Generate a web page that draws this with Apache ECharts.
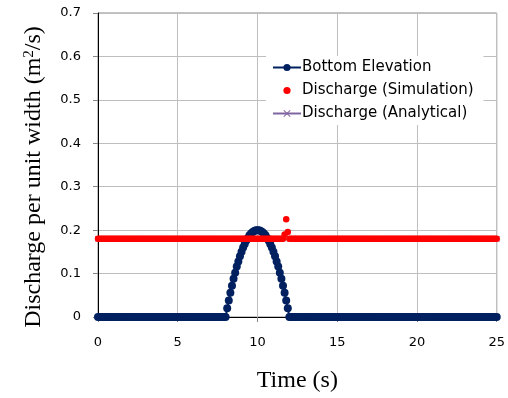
<!DOCTYPE html>
<html>
<head>
<meta charset="utf-8">
<script src="https://cdn.jsdelivr.net/npm/echarts@6/dist/echarts.min.js"></script>
<style>
  html, body { margin: 0; padding: 0; background: #fff; }
  #chart { width: 508px; height: 398px; }
</style>
</head>
<body>
<div id="chart"></div>
<script>
// sampling grids (s)
const elevStep = 0.1;
const simStep = 0.1;
const anaStep = 0.5;

// bottom elevation, one value every 0.1 s from 0 to 25
const elevValue = [
  0,0,0,0,0,0,0,0,0,0, 0,0,0,0,0,0,0,0,0,0,
  0,0,0,0,0,0,0,0,0,0, 0,0,0,0,0,0,0,0,0,0,
  0,0,0,0,0,0,0,0,0,0, 0,0,0,0,0,0,0,0,0,0,
  0,0,0,0,0,0,0,0,0,0, 0,0,0,0,0,0,0,0,0,0,
  // bump 8.0 .. 12.0
  0, 0.02, 0.038, 0.056, 0.072, 0.088, 0.102, 0.116, 0.128, 0.14,
  0.15, 0.16, 0.168, 0.176, 0.182, 0.188, 0.192, 0.196, 0.198, 0.2,
  0.2, 0.2, 0.198, 0.196, 0.192, 0.188, 0.182, 0.176, 0.168, 0.16,
  0.15, 0.14, 0.128, 0.116, 0.102, 0.088, 0.072, 0.056, 0.038, 0.02,
  0,
  // 12.1 .. 25
  0,0,0,0,0,0,0,0,0,0, 0,0,0,0,0,0,0,0,0,0,
  0,0,0,0,0,0,0,0,0,0, 0,0,0,0,0,0,0,0,0,0,
  0,0,0,0,0,0,0,0,0,0, 0,0,0,0,0,0,0,0,0,0,
  0,0,0,0,0,0,0,0,0,0, 0,0,0,0,0,0,0,0,0,0,
  0,0,0,0,0,0,0,0,0,0, 0,0,0,0,0,0,0,0,0,0,
  0,0,0,0,0,0,0,0,0,0, 0,0,0,0,0,0,0,0,0,0,
  0,0,0,0,0,0,0,0,0,0
];

// simulated discharge, one value every 0.1 s from 0 to 25
const simValue = [
  0.18,0.18,0.18,0.18,0.18,0.18,0.18,0.18,0.18,0.18, 0.18,0.18,0.18,0.18,0.18,0.18,0.18,0.18,0.18,0.18,
  0.18,0.18,0.18,0.18,0.18,0.18,0.18,0.18,0.18,0.18, 0.18,0.18,0.18,0.18,0.18,0.18,0.18,0.18,0.18,0.18,
  0.18,0.18,0.18,0.18,0.18,0.18,0.18,0.18,0.18,0.18, 0.18,0.18,0.18,0.18,0.18,0.18,0.18,0.18,0.18,0.18,
  0.18,0.18,0.18,0.18,0.18,0.18,0.18,0.18,0.18,0.18, 0.18,0.18,0.18,0.18,0.18,0.18,0.18,0.18,0.18,0.18,
  0.18,0.18,0.18,0.18,0.18,0.18,0.18,0.18,0.18,0.18, 0.18,0.18,0.18,0.18,0.18,0.18,0.18,0.18,0.18,0.18,
  0.18,0.18,0.18,0.18,0.18,0.18,0.18,0.18,0.18,0.18, 0.18,0.18,0.18,0.18,0.18,0.18,0.18,0.19,0.225,0.196,
  0.18,0.18,0.18,0.18,0.18,0.18,0.18,0.18,0.18,0.18, 0.18,0.18,0.18,0.18,0.18,0.18,0.18,0.18,0.18,0.18,
  0.18,0.18,0.18,0.18,0.18,0.18,0.18,0.18,0.18,0.18, 0.18,0.18,0.18,0.18,0.18,0.18,0.18,0.18,0.18,0.18,
  0.18,0.18,0.18,0.18,0.18,0.18,0.18,0.18,0.18,0.18, 0.18,0.18,0.18,0.18,0.18,0.18,0.18,0.18,0.18,0.18,
  0.18,0.18,0.18,0.18,0.18,0.18,0.18,0.18,0.18,0.18, 0.18,0.18,0.18,0.18,0.18,0.18,0.18,0.18,0.18,0.18,
  0.18,0.18,0.18,0.18,0.18,0.18,0.18,0.18,0.18,0.18, 0.18,0.18,0.18,0.18,0.18,0.18,0.18,0.18,0.18,0.18,
  0.18,0.18,0.18,0.18,0.18,0.18,0.18,0.18,0.18,0.18, 0.18,0.18,0.18,0.18,0.18,0.18,0.18,0.18,0.18,0.18,
  0.18,0.18,0.18,0.18,0.18,0.18,0.18,0.18,0.18,0.18,
  0.18
];

// analytical discharge, one value every 0.5 s from 0 to 25
const anaValue = [
  0.18,0.18,0.18,0.18,0.18,0.18,0.18,0.18,0.18,0.18,
  0.18,0.18,0.18,0.18,0.18,0.18,0.18,0.18,0.18,0.18,
  0.18,0.18,0.18,0.18,0.18,0.18,0.18,0.18,0.18,0.18,
  0.18,0.18,0.18,0.18,0.18,0.18,0.18,0.18,0.18,0.18,
  0.18,0.18,0.18,0.18,0.18,0.18,0.18,0.18,0.18,0.18,
  0.18
];

const xTicks = { min: 0, max: 25, interval: 5 };
const yTicks = { min: 0, max: 0.7, interval: 0.1 };

function pair(values, step) {
  return values.map(function (v, i) { return [+(i * step).toFixed(2), v]; });
}

const labelFont = '"DejaVu Sans", "Open Sans", sans-serif';
const titleFont = '"Liberation Serif", "DejaVu Serif", serif';
const xMark = 'path://M0,1L1,0L5,4L9,0L10,1L6,5L10,9L9,10L5,6L1,10L0,9L4,5Z';

let chart = echarts.init(document.getElementById('chart'));
chart.setOption({
  animation: false,
  backgroundColor: '#fff',
  grid: {
    left: 98, right: 6, top: 13, bottom: 80,
    show: true,
    borderColor: '#868686',
    borderWidth: 1
  },
  legend: {
    orient: 'vertical',
    left: 266,
    top: 56,
    padding: [4, 10, 4, 6],
    backgroundColor: '#fff',
    itemWidth: 28,
    itemHeight: 9,
    itemGap: 8,
    textStyle: { fontFamily: labelFont, fontSize: 15, color: '#000', padding: [0, 0, 0, -4] },
    data: ['Bottom Elevation', 'Discharge (Simulation)', 'Discharge (Analytical)']
  },
  xAxis: {
    type: 'value',
    min: xTicks.min, max: xTicks.max, interval: xTicks.interval,
    name: 'Time (s)',
    nameLocation: 'middle',
    nameGap: 52,
    nameTextStyle: { fontFamily: titleFont, fontSize: 24, color: '#000' },
    axisLine: { lineStyle: { color: '#000', width: 1 } },
    axisTick: { show: true, length: 5, lineStyle: { color: '#868686' } },
    axisLabel: { margin: 19, fontFamily: labelFont, fontSize: 13, color: '#000' },
    splitLine: { show: true, lineStyle: { color: '#BEBEBE', width: 1 } }
  },
  yAxis: {
    type: 'value',
    min: yTicks.min, max: yTicks.max, interval: yTicks.interval,
    name: 'Discharge per unit width (m{sup|2}/s)',
    nameLocation: 'middle',
    nameGap: 52,
    nameTextStyle: {
      fontFamily: titleFont, fontSize: 24, color: '#000',
      padding: [0, 24, 0, 0],
      rich: { sup: { fontFamily: titleFont, fontSize: 15, color: '#000', verticalAlign: 'top', padding: [0, 0, 9, 0] } }
    },
    axisLine: { show: true, lineStyle: { color: '#000', width: 1 } },
    axisTick: { show: true, length: 5, lineStyle: { color: '#868686' } },
    axisLabel: { margin: 17, fontFamily: labelFont, fontSize: 13, color: '#000' },
    splitLine: { show: true, lineStyle: { color: '#BEBEBE', width: 1 } }
  },
  series: [
    {
      name: 'Bottom Elevation',
      type: 'line',
      data: pair(elevValue, elevStep),
      symbol: 'circle',
      symbolSize: 8,
      showAllSymbol: true,
      color: '#002060',
      lineStyle: { color: '#002060', width: 2 },
      z: 2
    },
    {
      name: 'Discharge (Analytical)',
      type: 'line',
      data: pair(anaValue, anaStep),
      symbol: xMark,
      symbolSize: 6,
      showAllSymbol: true,
      color: '#8064A2',
      lineStyle: { color: '#8064A2', width: 2 },
      z: 3
    },
    {
      name: 'Discharge (Simulation)',
      type: 'line',
      data: pair(simValue, simStep),
      symbol: 'circle',
      symbolSize: 6.5,
      showAllSymbol: true,
      color: '#FF0000',
      lineStyle: { width: 0, opacity: 0 },
      z: 4
    }
  ]
});
window.addEventListener('resize', function () {
  chart.resize();
});
</script>
</body>
</html>
